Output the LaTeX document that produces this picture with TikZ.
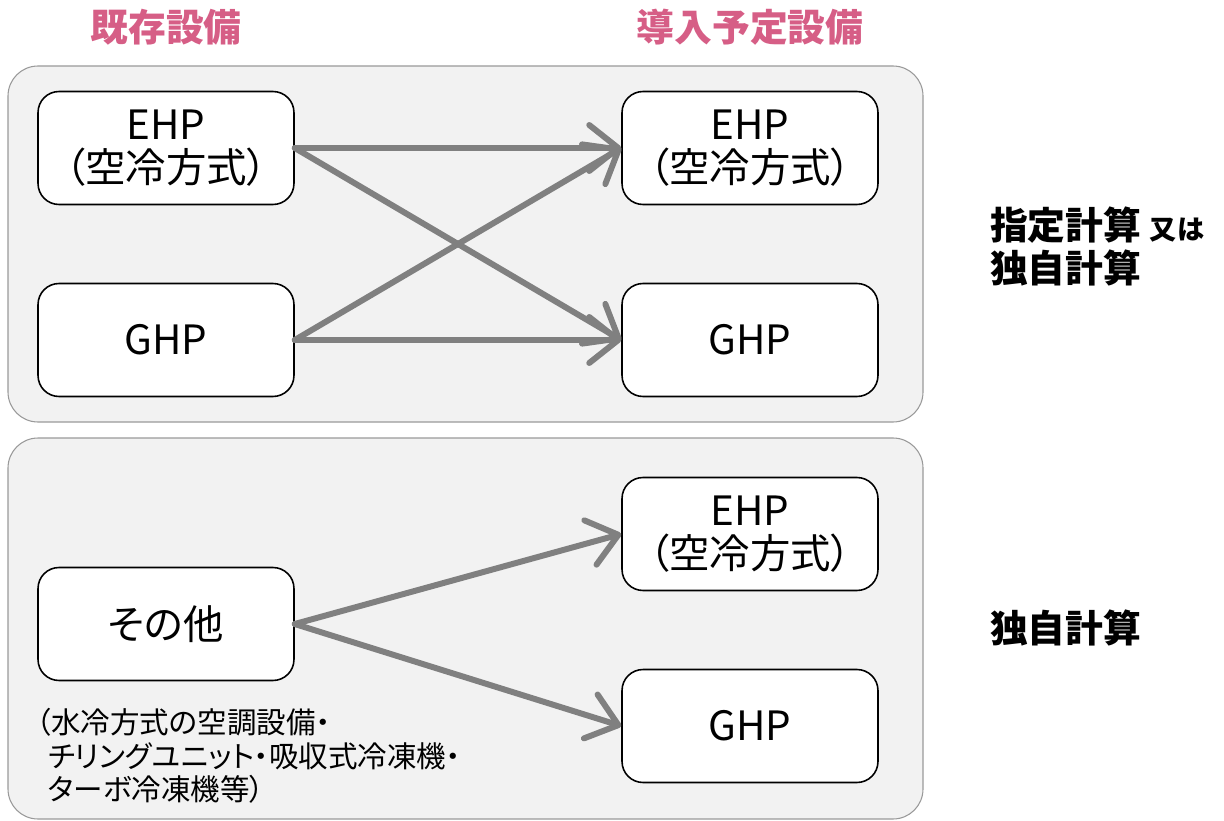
\documentclass[tikz,border=0pt]{standalone}
\usepackage{fontspec}
\setmainfont[RawFeature=+palt]{Noto Sans CJK JP}
\usetikzlibrary{arrows.meta}
\definecolor{headpink}{RGB}{214,94,134}
\definecolor{panelgray}{RGB}{242,242,242}
\definecolor{arrowgray}{RGB}{128,128,128}
\begin{document}
\begin{tikzpicture}[
    x=0.02cm, y=-0.02cm,
    panel/.style={draw=gray!80, line width=0.6pt, fill=panelgray, rounded corners=0.6cm},
    unit/.style={rectangle, draw, line width=0.9pt, fill=white, minimum width=5.12cm, minimum height=2.26cm, align=center, rounded corners=0.42cm, font=\fontsize{23}{24.5}\selectfont},
    head/.style={font=\fontsize{21.5}{25}\selectfont\bfseries, text=headpink},
    calc/.style={anchor=west, align=left, font=\fontsize{21.5}{24.5}\selectfont\bfseries},
    arrow/.style={-{Straight Barb[length=0.58cm, width=0.92cm, line cap=round, line join=round]}, line width=3.4pt, draw=arrowgray, line cap=round}
]
    \useasboundingbox (0,0) rectangle (1224,821);
    % Panels
    \draw[panel] (8,66) rectangle (923,422);
    \draw[panel] (8,438) rectangle (923,819);

    % Column headings
    \node[head] (hOld) at (166,27) {既存設備};
    \node[head] (hNew) at (750,27) {導入予定設備};

    % Existing equipment
    \node[unit] (oldEHP) at (166,148) {EHP\\（空冷方式）};
    \node[unit] (oldGHP) at (166,340) {GHP};
    \node[unit] (other) at (166,624) {その他};

    % Planned equipment
    \node[unit] (newEHP) at (750,148) {EHP\\（空冷方式）};
    \node[unit] (newGHP) at (750,340) {GHP};
    \node[unit] (otherEHP) at (750,534) {EHP\\（空冷方式）};
    \node[unit] (otherGHP) at (750,726) {GHP};

    % Arrows
    \draw[arrow] (oldEHP.east) -- (newEHP.west);
    \draw[arrow] (oldEHP.east) -- (newGHP.west);
    \draw[arrow] (oldGHP.east) -- (newEHP.west);
    \draw[arrow] (oldGHP.east) -- (newGHP.west);
    \draw[arrow] (other.east) -- (otherEHP.west);
    \draw[arrow] (other.east) -- (otherGHP.west);

    % Note below "other"
    \node[anchor=north west, align=left, inner sep=0pt, font=\fontsize{16.8}{19}\selectfont] (note) at (36,708)
        {（水冷方式の空調設備・\\\hspace{0.4em}チリングユニット・吸収式冷凍機・\\\hspace{0.4em}ターボ冷凍機等）};

    % Calculation methods
    \node[calc] (calcTop) at (984,246) {指定計算 {\fontsize{15.5}{19}\selectfont 又は}\\独自計算};
    \node[calc] (calcBottom) at (984,628) {独自計算};
\end{tikzpicture}
\end{document}
